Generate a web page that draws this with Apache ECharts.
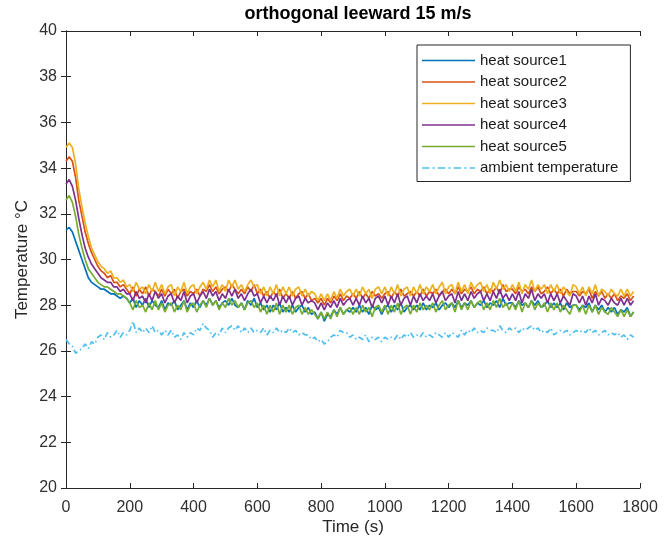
<!DOCTYPE html>
<html>
<head>
<meta charset="utf-8">
<script src="https://cdn.jsdelivr.net/npm/echarts@6/dist/echarts.min.js"></script>
<style>
html,body{margin:0;padding:0;background:#fff;}
#chart{width:667px;height:547px;}
</style>
</head>
<body>
<div id="chart"></div>
<script>
// sample instants (s): one reading every 10 s, 0 .. 1780
const sampleStep = 10;
const timeS = Array.from({length: 179}, (_, i) => i * sampleStep);

const xTicks = [0, 200, 400, 600, 800, 1000, 1200, 1400, 1600, 1800];
const yTicks = [20, 22, 24, 26, 28, 30, 32, 34, 36, 38, 40];

const seriesNames = ['heat source1', 'heat source2', 'heat source3', 'heat source4', 'heat source5', 'ambient temperature'];

const heatSource1 = [
31.3,31.4,31.2,30.8,30.4,30.0,29.6,29.2,29.0,28.9,
28.8,28.7,28.7,28.6,28.5,28.5,28.4,28.3,28.4,28.3,
28.1,28.3,27.9,28.2,28.0,28.3,27.9,28.2,28.0,27.9,
28.2,27.8,28.1,28.0,28.2,27.8,28.0,28.2,27.8,28.1,
27.9,28.2,27.9,28.2,28.0,28.3,28.0,28.2,27.9,28.1,
28.2,28.0,28.3,28.0,27.9,28.1,27.8,28.2,28.0,28.3,
27.9,28.1,27.8,28.0,27.7,28.0,27.8,28.1,27.7,27.9,
27.7,28.0,27.7,27.9,28.0,27.7,27.9,27.6,27.7,27.4,
27.7,27.3,27.6,27.5,27.8,27.6,27.9,27.6,27.8,27.7,
27.9,27.7,28.0,27.7,27.9,27.6,28.0,27.8,27.9,27.6,
27.9,28.0,27.7,28.0,27.8,28.1,27.7,27.9,28.0,27.8,
28.0,27.8,28.1,27.8,28.0,27.9,28.1,27.8,28.0,28.1,
27.9,28.1,27.9,28.2,27.9,28.1,28.0,28.2,27.9,28.1,
28.0,28.2,27.9,28.1,28.0,28.2,27.9,28.3,28.0,28.1,
28.1,27.9,28.2,28.0,28.1,27.9,28.2,28.0,28.2,27.9,
28.0,28.2,27.9,28.1,27.9,28.1,27.8,28.1,27.9,28.0,
28.0,27.8,28.0,27.9,28.1,27.7,28.0,27.8,28.0,27.7,
27.9,27.7,27.9,27.6,27.8,27.7,27.9,27.5,27.7
];

const heatSource2 = [
34.3,34.5,34.3,33.6,32.6,31.9,31.2,30.7,30.3,30.0,
29.7,29.5,29.4,29.2,29.3,29.0,29.0,28.8,28.9,28.7,
28.5,28.8,28.4,28.7,28.5,28.8,28.4,28.7,28.6,28.4,
28.7,28.4,28.7,28.5,28.7,28.3,28.6,28.7,28.4,28.6,
28.5,28.7,28.4,28.7,28.6,28.9,28.6,28.8,28.5,28.7,
28.8,28.6,28.9,28.7,28.5,28.7,28.5,28.8,28.6,28.9,
28.5,28.7,28.4,28.6,28.3,28.6,28.4,28.7,28.3,28.5,
28.3,28.6,28.3,28.5,28.6,28.3,28.5,28.2,28.3,28.1,
28.3,28.0,28.3,28.1,28.4,28.2,28.5,28.2,28.4,28.3,
28.5,28.3,28.6,28.3,28.5,28.3,28.6,28.4,28.5,28.3,
28.5,28.6,28.3,28.6,28.4,28.7,28.4,28.5,28.6,28.4,
28.6,28.4,28.7,28.4,28.6,28.5,28.7,28.4,28.6,28.7,
28.5,28.7,28.5,28.8,28.5,28.7,28.6,28.8,28.5,28.7,
28.6,28.8,28.5,28.7,28.6,28.8,28.5,28.9,28.6,28.7,
28.7,28.5,28.8,28.6,28.7,28.5,28.8,28.6,28.8,28.5,
28.6,28.8,28.5,28.7,28.5,28.7,28.4,28.7,28.5,28.6,
28.6,28.4,28.6,28.5,28.7,28.3,28.6,28.4,28.6,28.3,
28.5,28.3,28.5,28.2,28.4,28.3,28.5,28.2,28.4
];

const heatSource3 = [
34.9,35.1,34.9,34.2,33.1,32.3,31.6,31.0,30.5,30.2,
29.9,29.7,29.6,29.4,29.5,29.2,29.2,29.0,29.1,28.8,
28.9,28.6,29.0,28.7,28.8,28.5,28.9,28.6,29.0,28.6,
28.9,28.5,28.8,28.9,28.4,28.8,28.6,29.0,28.5,28.8,
28.9,28.5,28.8,29.0,28.7,29.1,28.8,29.1,28.6,28.9,
28.6,29.1,28.8,29.1,28.7,28.9,28.6,28.9,29.1,28.8,
28.9,28.5,28.8,28.4,28.8,28.5,28.9,28.4,28.8,28.5,
28.8,28.4,28.7,28.8,28.4,28.7,28.4,28.6,28.5,28.2,
28.5,28.2,28.5,28.2,28.6,28.3,28.7,28.4,28.6,28.7,
28.4,28.7,28.4,28.8,28.5,28.7,28.3,28.7,28.8,28.5,
28.8,28.4,28.8,28.5,28.9,28.4,28.7,28.8,28.4,28.8,
28.5,28.9,28.5,28.8,28.6,28.9,28.5,28.8,29.0,28.5,
28.8,28.9,28.5,29.0,28.6,28.9,28.5,29.0,28.7,28.9,
29.0,28.6,28.9,28.5,29.0,28.7,29.1,28.7,28.9,28.6,
28.9,28.6,29.0,28.5,28.9,28.7,29.1,28.6,28.9,28.7,
28.9,28.5,28.9,28.6,28.9,28.5,28.8,28.6,28.4,28.9,
28.8,28.5,28.8,28.4,28.8,28.5,28.9,28.4,28.7,28.6,
28.4,28.7,28.5,28.4,28.7,28.4,28.7,28.4,28.6
];

const heatSource4 = [
33.3,33.5,33.2,32.6,31.8,31.1,30.5,30.1,29.8,29.6,
29.4,29.2,29.1,29.0,29.0,28.8,28.8,28.6,28.7,28.5,
28.5,28.2,28.6,28.3,28.4,28.1,28.5,28.2,28.6,28.3,
28.5,28.1,28.4,28.5,28.1,28.4,28.2,28.6,28.1,28.4,
28.5,28.1,28.4,28.6,28.3,28.7,28.4,28.6,28.2,28.5,
28.3,28.7,28.4,28.7,28.3,28.5,28.2,28.5,28.7,28.4,
28.5,28.1,28.4,28.1,28.4,28.2,28.5,28.0,28.4,28.1,
28.4,28.0,28.3,28.4,28.0,28.3,28.1,28.2,28.1,27.8,
28.1,27.8,28.1,27.9,28.2,27.9,28.3,28.0,28.2,28.3,
28.0,28.3,28.0,28.4,28.1,28.3,27.9,28.3,28.4,28.1,
28.4,28.0,28.4,28.1,28.5,28.0,28.3,28.4,28.0,28.4,
28.1,28.5,28.2,28.4,28.2,28.5,28.1,28.4,28.6,28.2,
28.4,28.5,28.1,28.6,28.2,28.5,28.2,28.6,28.3,28.5,
28.6,28.2,28.5,28.2,28.6,28.3,28.7,28.3,28.5,28.2,
28.5,28.2,28.6,28.1,28.5,28.3,28.7,28.2,28.5,28.3,
28.5,28.1,28.5,28.2,28.5,28.1,28.4,28.2,28.0,28.5,
28.4,28.1,28.4,28.0,28.4,28.1,28.5,28.0,28.3,28.2,
28.0,28.3,28.1,28.0,28.3,28.0,28.3,28.0,28.2
];

const heatSource5 = [
32.6,32.8,32.5,31.9,31.1,30.5,30.0,29.6,29.4,29.2,
29.0,28.9,28.8,28.8,28.7,28.6,28.5,28.5,28.4,28.3,
28.1,27.8,28.2,27.9,28.0,27.7,28.1,27.8,28.2,27.8,
28.1,27.7,28.0,28.1,27.7,28.0,27.8,28.2,27.7,28.0,
28.1,27.7,28.0,28.2,27.9,28.3,28.0,28.2,27.8,28.1,
27.9,28.3,28.0,28.2,27.9,28.1,27.8,28.1,28.2,27.9,
28.1,27.7,28.0,27.6,28.0,27.7,28.1,27.6,28.0,27.7,
28.0,27.6,27.9,28.0,27.6,27.9,27.6,27.8,27.6,27.4,
27.7,27.4,27.7,27.4,27.8,27.5,27.9,27.6,27.8,27.9,
27.6,27.9,27.6,28.0,27.7,27.9,27.5,27.9,28.0,27.7,
28.0,27.6,28.0,27.7,28.1,27.6,27.9,28.0,27.6,28.0,
27.7,28.1,27.8,28.0,27.8,28.1,27.7,28.0,28.2,27.8,
28.0,28.1,27.7,28.2,27.8,28.1,27.8,28.2,27.9,28.1,
28.2,27.8,28.1,27.8,28.2,27.9,28.3,27.9,28.1,27.8,
28.1,27.8,28.2,27.7,28.1,27.9,28.2,27.8,28.1,27.9,
28.1,27.7,28.1,27.8,28.1,27.7,28.0,27.8,27.6,28.0,
28.0,27.7,28.0,27.6,28.0,27.7,28.0,27.6,27.9,27.7,
27.6,27.9,27.7,27.5,27.8,27.5,27.8,27.5,27.7
];

const ambientTemp = [
26.5,26.3,26.2,25.9,26.0,26.1,26.3,26.1,26.4,26.3,
26.6,26.7,26.5,26.8,26.6,26.7,26.9,26.6,26.8,26.7,
26.9,27.3,26.8,27.0,26.8,27.0,26.8,27.1,26.8,26.9,
26.7,26.9,26.7,26.9,26.6,26.7,26.5,26.8,26.6,26.8,
26.7,27.0,26.9,27.2,27.0,26.9,26.6,26.8,26.7,27.0,
26.8,27.0,27.1,26.9,27.1,26.8,27.0,26.8,27.0,26.8,
26.9,26.8,27.0,26.7,26.9,26.8,27.0,26.8,26.9,26.8,
27.0,26.8,26.9,26.7,26.8,26.7,26.7,26.5,26.6,26.4,
26.5,26.3,26.4,26.6,26.7,26.6,26.9,26.8,26.8,26.6,
26.7,26.5,26.6,26.5,26.7,26.4,26.6,26.5,26.6,26.4,
26.6,26.5,26.6,26.5,26.7,26.5,26.7,26.6,26.8,26.6,
26.7,26.6,26.8,26.6,26.7,26.6,26.8,26.7,26.6,26.8,
26.6,26.8,26.7,26.6,26.9,26.7,26.9,26.8,27.0,26.8,
26.9,26.8,27.0,26.9,26.9,26.8,27.1,26.9,26.8,27.0,
26.9,27.0,26.8,27.0,26.9,27.0,27.1,26.9,27.0,26.8,
26.9,26.8,27.0,26.7,26.8,26.9,26.8,26.9,26.7,26.8,
26.9,26.8,26.9,26.8,27.0,26.8,26.9,26.7,26.8,26.9,
26.7,26.8,26.7,26.8,26.6,26.7,26.5,26.7,26.6
];

const seriesValues = [heatSource1, heatSource2, heatSource3, heatSource4, heatSource5, ambientTemp];
const seriesColors = ['#0072BD', '#D95319', '#EDB120', '#7E2F8E', '#77AC30', '#4DBEEE'];

const FONT = '"Liberation Sans", Arial, Helvetica, sans-serif';
const AX = '#262626';

// legend key shapes: a thin solid bar and a dash-dot bar
const ICON_SOLID = 'path://M0,0H100V3H0Z';
const ICON_DASHDOT = 'path://M0,0H14V3H0Z M20,0H24V3H20Z M30,0H44V3H30Z M50,0H54V3H50Z M60,0H74V3H60Z M80,0H84V3H80Z M90,0H100V3H90Z';

const chart = echarts.init(document.getElementById('chart'), null, {renderer: 'canvas'});

const series = seriesValues.map((vals, k) => ({
  name: seriesNames[k],
  type: 'line',
  xAxisIndex: 0,
  yAxisIndex: 0,
  data: timeS.map((t, i) => [t, vals[i]]),
  symbol: 'none',
  showSymbol: false,
  smooth: false,
  color: seriesColors[k],
  lineStyle: {
    color: seriesColors[k],
    width: 1.7,
    type: k === 5 ? [6, 3, 1.5, 3] : 'solid'
  },
  emphasis: {disabled: true}
}));

const baseX = {
  type: 'value', min: 0, max: 1800, interval: 200,
  axisLine: {show: true, lineStyle: {color: AX, width: 1}},
  axisTick: {show: true, inside: true, length: 5, lineStyle: {color: AX}},
  splitLine: {show: false}
};
const baseY = {
  type: 'value', min: 20, max: 40, interval: 2,
  axisLine: {show: true, lineStyle: {color: AX, width: 1}},
  axisTick: {show: true, inside: true, length: 5, lineStyle: {color: AX}},
  splitLine: {show: false}
};

chart.setOption({
  animation: false,
  backgroundColor: '#ffffff',
  title: {
    text: 'orthogonal leeward 15 m/s',
    left: 353, textAlign: 'center', top: 0,
    textStyle: {fontFamily: FONT, fontSize: 18, fontWeight: 'bold', color: '#000'}
  },
  grid: {left: 66, right: 27, top: 31, bottom: 59, containLabel: false},
  legend: {
    data: seriesNames.map((n, k) => ({name: n, icon: k === 5 ? ICON_DASHDOT : ICON_SOLID})),
    orient: 'vertical',
    left: 417, top: 45,
    itemWidth: 53, itemHeight: 14, itemGap: 6.5,
    padding: [8, 12, 6, 5],
    borderColor: AX, borderWidth: 1,
    backgroundColor: '#fff',
    textStyle: {fontFamily: FONT, fontSize: 15, color: '#1a1a1a'},
    selectedMode: false
  },
  xAxis: [
    Object.assign({}, baseX, {
      position: 'bottom',
      name: 'Time (s)', nameLocation: 'middle', nameGap: 31,
      nameMoveOverlap: false,
      nameTextStyle: {fontFamily: FONT, fontSize: 17, color: AX},
      axisLabel: {show: true, fontFamily: FONT, fontSize: 16, color: '#303030', margin: 12,
        formatter: v => xTicks.includes(v) ? String(v) : ''}
    }),
    Object.assign({}, baseX, {position: 'top', axisLabel: {show: false}})
  ],
  yAxis: [
    Object.assign({}, baseY, {
      position: 'left',
      name: 'Temperature °C', nameLocation: 'middle', nameGap: 35,
      nameMoveOverlap: false,
      nameTextStyle: {fontFamily: FONT, fontSize: 17, color: AX},
      axisLabel: {show: true, fontFamily: FONT, fontSize: 16, color: '#303030', margin: 9,
        formatter: v => yTicks.includes(v) ? String(v) : ''}
    }),
    Object.assign({}, baseY, {position: 'right', axisLabel: {show: false}})
  ],
  series: series
});
</script>
</body>
</html>
